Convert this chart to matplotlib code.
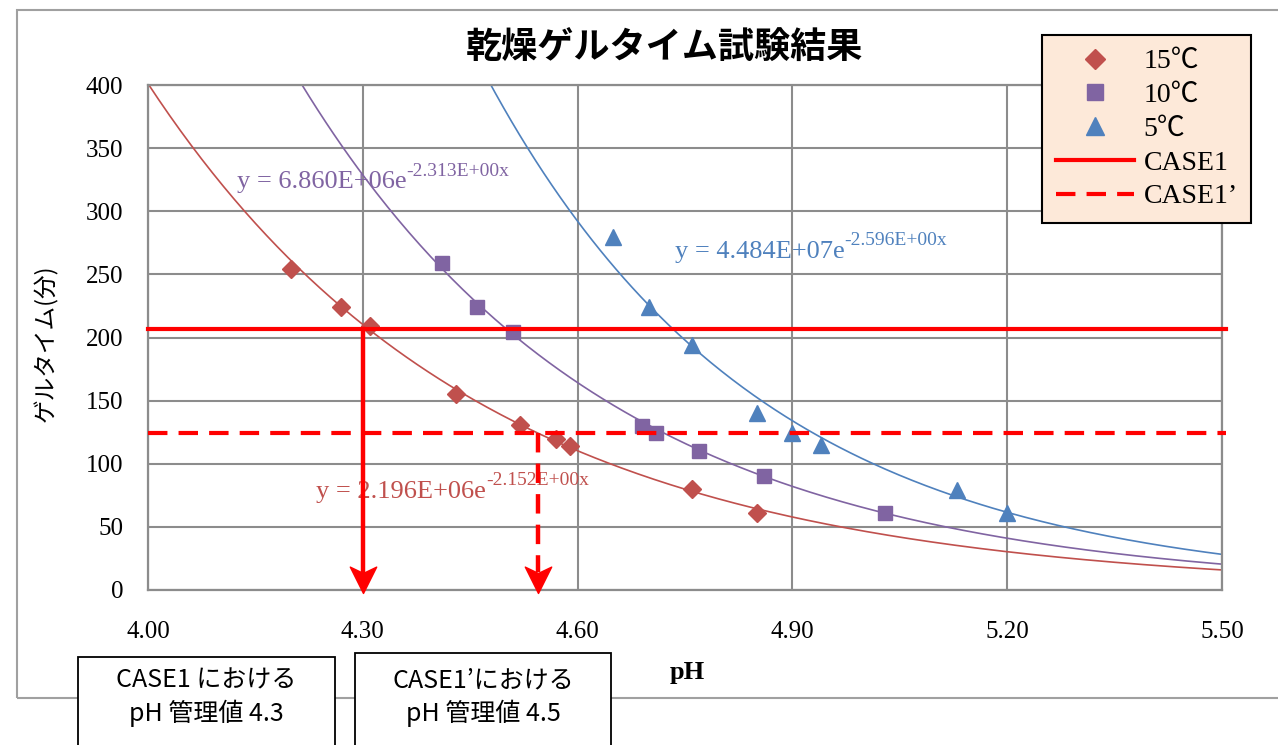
import numpy as np
import matplotlib.pyplot as plt
from matplotlib.path import Path
from matplotlib.patches import Rectangle

plt.rcParams['font.family'] = ['Liberation Serif', 'Noto Sans CJK JP']
plt.rcParams['lines.scale_dashes'] = False

## DATA
ph_15 = [4.20, 4.27, 4.31, 4.43, 4.52, 4.57, 4.59, 4.76, 4.85]
gel_15 = [254, 224, 209, 155, 131, 120, 114, 80, 61]
ph_10 = [4.41, 4.46, 4.51, 4.69, 4.71, 4.77, 4.86, 5.03]
gel_10 = [259, 224, 204, 130, 124, 110, 90, 61]
ph_5 = [4.65, 4.70, 4.76, 4.85, 4.90, 4.94, 5.13, 5.20]
gel_5 = [280, 224, 194, 140, 124, 115, 79, 61]

series_labels = ['15℃', '10℃', '5℃']
fit_a = [2.196e6, 6.860e6, 4.484e7]
fit_b = [2.152, 2.313, 2.596]
eq_pos = [(4.235, 78), (4.124, 323), (4.736, 268)]

case_labels = ['CASE1', 'CASE1’']
case_gel = [207, 124]
case_ph = [4.30, 4.545]
box_texts = ['CASE1 における\npH 管理値 4.3', 'CASE1’における\npH 管理値 4.5']

xticks = [4.00, 4.30, 4.60, 4.90, 5.20, 5.50]
yticks = list(range(0, 401, 50))

colors = ['#C0504D', '#8064A2', '#4F81BD']
markers = ['D', 's', '^']
msizes = [9, 10, 11]

W, H = 1278, 745
fig = plt.figure(figsize=(W / 100, H / 100), dpi=100)
ax = fig.add_axes([148 / W, 1 - 590 / H, (1222 - 148) / W, (590 - 85) / H])

## chart area border
fig.add_artist(Rectangle((17 / W, 1 - 698 / H), (1300 - 17) / W, (698 - 10) / H,
                         transform=fig.transFigure, fill=False, edgecolor='#A0A0A0',
                         lw=1.5, clip_on=False, zorder=0))

## POINTS + TRENDLINES
xs = np.linspace(4.0, 5.5, 400)
handles = []
for (px, gy), lab, c, m, ms, a, b, pos in zip([(ph_15, gel_15), (ph_10, gel_10), (ph_5, gel_5)],
                                          series_labels, colors, markers, msizes,
                                          fit_a, fit_b, eq_pos):
    ax.plot(xs, a * np.exp(-b * xs), color=c, lw=1.2, zorder=2)
    h, = ax.plot(px, gy, ls='none', marker=m, ms=ms, color=c, label=lab, zorder=4)
    handles.append(h)
    t = ax.text(pos[0], pos[1], 'y = %.3Ee' % a, color=c, fontsize=19,
                va='center', ha='left', zorder=1)
    ax.annotate('-%.3Ex' % b, xy=(1.0, 0.6), xycoords=t, color=c, fontsize=14,
                va='bottom', ha='left', zorder=1)

## CASE lines
for g, lab, ls in zip(case_gel, case_labels, ['-', (0, (14, 8))]):
    h, = ax.plot([4.0, 5.505], [g, g], color='#FF0000', lw=3, ls=ls, label=lab,
                 zorder=5, clip_on=False)
    handles.append(h)

## ARROWS
head = Path([(0, 0), (-0.5, 1), (0, 0.76), (0.5, 1), (0, 0)],
            [Path.MOVETO, Path.LINETO, Path.LINETO, Path.LINETO, Path.CLOSEPOLY])
for x, g, ls in zip(case_ph, case_gel, ['-', (0, (14, 8))]):
    ax.plot([x, x], [g, 14], color='#FF0000', lw=3.2, ls=ls, zorder=6)
    ax.plot([x], [-2], marker=head, ms=38, color='#FF0000', mec='#FF0000',
            ls='none', zorder=6, clip_on=False)

## AXES
ax.set_xlim(4.0, 5.5)
ax.set_ylim(0, 400)
ax.set_xticks(xticks)
ax.set_xticklabels(['%.2f' % t for t in xticks])
ax.set_yticks(yticks)
ax.tick_params(axis='both', length=0, labelsize=18)
ax.tick_params(axis='x', pad=22)
ax.tick_params(axis='y', pad=18)
ax.grid(True, color='#8C8C8C', lw=1.5)
ax.set_axisbelow(True)
for s in ax.spines.values():
    s.set_color('#8C8C8C')
    s.set_linewidth(1.6)

## TEXTS
fig.text(664 / W, 1 - 48 / H, '乾燥ゲルタイム試験結果', family='Noto Sans CJK JP',
         fontsize=26, fontweight='bold', ha='center', va='center')
fig.text(46 / W, 1 - 343 / H, 'ゲルタイム(分)', family='Noto Sans CJK JP',
         fontsize=17, rotation=90, ha='center', va='center')
fig.text(687 / W, 1 - 672 / H, 'pH', family='Liberation Serif', fontsize=19,
         fontweight='bold', ha='center', va='center')

## LEGEND
leg = fig.legend(handles=handles, loc='upper left', bbox_to_anchor=(1042 / W, 1 - 35 / H),
                 fontsize=20, frameon=True, fancybox=False, facecolor='#FDE9D9',
                 edgecolor='black', framealpha=1, handlelength=2.8, handletextpad=0.35,
                 labelspacing=0.3, borderpad=0.5, borderaxespad=0, markerscale=1.15)
leg.get_frame().set_linewidth(1.5)

## BOXES
for (x0, y0, x1), txt in zip([(78, 657, 335), (355, 653, 611)], box_texts):
    fig.add_artist(Rectangle((x0 / W, 1 - 760 / H), (x1 - x0) / W, (760 - y0) / H,
                             transform=fig.transFigure, facecolor='white',
                             edgecolor='black', lw=1.3, clip_on=False, zorder=3))
    fig.text((x0 + x1) / 2 / W, 1 - 697 / H, txt, family='Noto Sans CJK JP',
             fontsize=18, ha='center', va='center', linespacing=1.3, zorder=4)

fig.savefig('out.png', dpi=100)
